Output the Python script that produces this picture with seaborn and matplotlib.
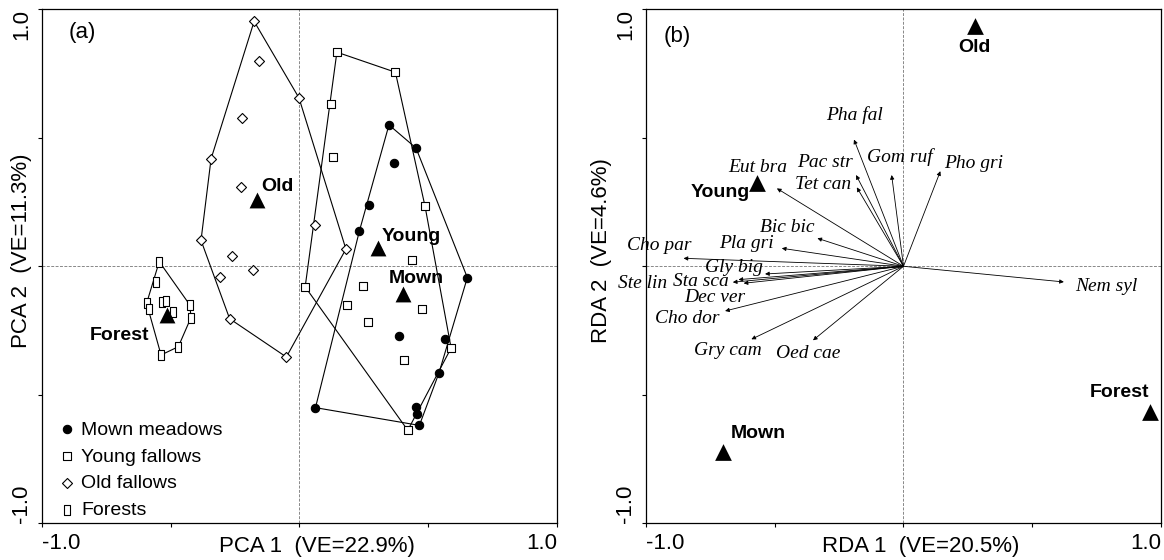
import matplotlib
matplotlib.use("Agg")
import matplotlib.pyplot as plt
import seaborn as sns
import pandas as pd
from matplotlib.path import Path

# ---- panel (a): PCA sample scores ----
mown_x = [0.347, 0.452, 0.367, 0.268, 0.232, 0.651, 0.386, 0.565, 0.541, 0.452, 0.455, 0.465, 0.062]
mown_y = [0.550, 0.460, 0.402, 0.240, 0.136, -0.044, -0.271, -0.281, -0.415, -0.547, -0.576, -0.619, -0.550]

young_x = [0.145, 0.372, 0.123, 0.130, 0.487, 0.436, 0.022, 0.246, 0.183, 0.476, 0.264, 0.588, 0.406, 0.420]
young_y = [0.833, 0.755, 0.632, 0.426, 0.233, 0.023, -0.080, -0.077, -0.149, -0.165, -0.217, -0.318, -0.366, -0.638]

old_x = [-0.176, -0.158, -0.002, -0.222, -0.343, -0.226, 0.059, 0.180, -0.382, -0.260, -0.182, -0.308, -0.271, -0.051]
old_y = [0.953, 0.798, 0.655, 0.576, 0.418, 0.307, 0.160, 0.067, 0.101, 0.040, -0.013, -0.042, -0.204, -0.353]

forest_x = [-0.544, -0.557, -0.593, -0.583, -0.533, -0.519, -0.489, -0.425, -0.421, -0.470, -0.537]
forest_y = [0.018, -0.062, -0.144, -0.166, -0.140, -0.134, -0.179, -0.151, -0.200, -0.313, -0.345]

groups = ["Mown meadows", "Young fallows", "Old fallows", "Forests"]
centroid_names = ["Mown", "Young", "Old", "Forest"]
pca_cx = [0.401, 0.304, -0.166, -0.513]
pca_cy = [-0.106, 0.071, 0.259, -0.190]

# ---- panel (b): RDA ----
rda_cx = [-0.702, -0.567, 0.277, 0.958]
rda_cy = [-0.722, 0.324, 0.934, -0.566]

species = ["Pha fal", "Pac str", "Tet can", "Gom ruf", "Pho gri", "Eut bra", "Bic bic",
           "Pla gri", "Cho par", "Gly big", "Sta sca", "Ste lin", "Dec ver", "Cho dor",
           "Gry cam", "Oed cae", "Nem syl"]
sp_x = [-0.192, -0.184, -0.181, -0.046, 0.143, -0.491, -0.334, -0.472, -0.853, -0.537,
        -0.640, -0.662, -0.620, -0.692, -0.590, -0.351, 0.622]
sp_y = [0.493, 0.355, 0.307, 0.355, 0.370, 0.303, 0.109, 0.070, 0.031, -0.030,
        -0.052, -0.062, -0.066, -0.174, -0.284, -0.288, -0.061]

# label placement (layout only)
sp_lab_x = [-0.189, -0.305, -0.312, -0.016, 0.273, -0.564, -0.449, -0.611, -0.947, -0.657,
            -0.784, -1.012, -0.731, -0.840, -0.683, -0.370, 0.785]
sp_lab_y = [0.590, 0.405, 0.318, 0.425, 0.398, 0.383, 0.152, 0.088, 0.080, -0.006,
            -0.060, -0.066, -0.120, -0.202, -0.327, -0.340, -0.080]
pca_lab = {"Mown": (0.452, -0.048, "center"), "Young": (0.318, 0.117, "left"),
           "Old": (-0.149, 0.311, "left"), "Forest": (-0.699, -0.268, "center")}
rda_lab = {"Mown": (-0.564, -0.651), "Young": (-0.709, 0.288),
           "Old": (0.277, 0.850), "Forest": (0.839, -0.492)}

sns.set_theme(style="ticks")
plt.rcParams["font.family"] = ["Liberation Sans", "DejaVu Sans"]
plt.rcParams.update({"text.color": "black", "axes.labelcolor": "black",
                     "xtick.color": "black", "ytick.color": "black"})

rect = Path([(-0.25, -0.5), (0.25, -0.5), (0.25, 0.5), (-0.25, 0.5), (-0.25, -0.5)],
            [Path.MOVETO, Path.LINETO, Path.LINETO, Path.LINETO, Path.CLOSEPOLY])


def hull(xs, ys):
    pts = sorted(set(zip(xs, ys)))

    def cross(o, a, b):
        return (a[0] - o[0]) * (b[1] - o[1]) - (a[1] - o[1]) * (b[0] - o[0])

    lower, upper = [], []
    for p in pts:
        while len(lower) >= 2 and cross(lower[-2], lower[-1], p) <= 0:
            lower.pop()
        lower.append(p)
    for p in reversed(pts):
        while len(upper) >= 2 and cross(upper[-2], upper[-1], p) <= 0:
            upper.pop()
        upper.append(p)
    h = lower[:-1] + upper[:-1]
    h.append(h[0])
    return [p[0] for p in h], [p[1] for p in h]


def style_axes(ax, xlab, ylab, ylab_x):
    ax.set_xlim(-1, 1)
    ax.set_ylim(-1, 1)
    ticks = [-1, -0.5, 0, 0.5, 1]
    labels = ["-1.0", "", "", "", "1.0"]
    ax.set_xticks(ticks, labels)
    ax.set_yticks(ticks, labels)
    ax.tick_params(direction="out", length=3, width=0.8, labelsize=16, pad=4)
    ax.tick_params(axis="y", labelrotation=90)
    xl = ax.get_xticklabels()
    xl[0].set_ha("left")
    xl[-1].set_ha("right")
    yl = ax.get_yticklabels()
    yl[0].set_va("bottom")
    yl[-1].set_va("top")
    ax.set_xlabel(xlab, fontsize=16)
    ax.set_ylabel(ylab, fontsize=16)
    ax.xaxis.set_label_coords(0.534, -0.024)
    ax.yaxis.set_label_coords(ylab_x, 0.53)
    for s in ax.spines.values():
        s.set_color("black")
        s.set_linewidth(0.9)
    ax.axhline(0, color="#888888", lw=0.7, ls=(0, (3, 1.5)), zorder=0)
    ax.axvline(0, color="#888888", lw=0.7, ls=(0, (3, 1.5)), zorder=0)


fig = plt.figure(figsize=(11.64, 5.6), dpi=100)
ax1 = fig.add_axes([0.0358, 0.0655, 0.443, 0.918])
ax2 = fig.add_axes([0.5547, 0.0655, 0.443, 0.918])

# ---- (a) ----
pca = pd.concat([
    pd.DataFrame({"x": mown_x, "y": mown_y, "group": groups[0]}),
    pd.DataFrame({"x": young_x, "y": young_y, "group": groups[1]}),
    pd.DataFrame({"x": old_x, "y": old_y, "group": groups[2]}),
    pd.DataFrame({"x": forest_x, "y": forest_y, "group": groups[3]}),
])
marks = {groups[0]: ("o", "black", 36), groups[1]: ("s", "white", 34),
         groups[2]: ("D", "white", 26), groups[3]: (rect, "white", 60)}

for g in groups:
    sub = pca[pca["group"] == g]
    hx, hy = hull(sub["x"], sub["y"])
    ax1.plot(hx, hy, color="black", lw=0.8, zorder=2)
for g in groups:
    sub = pca[pca["group"] == g]
    m, fc, s = marks[g]
    sns.scatterplot(data=sub, x="x", y="y", ax=ax1, marker=m, color=fc, s=s,
                    edgecolor="black", linewidth=0.8, legend=False, label=g, zorder=3)

sns.scatterplot(x=pca_cx, y=pca_cy, ax=ax1, marker="^", color="black", s=130,
                edgecolor="black", linewidth=0, legend=False, zorder=4)
for name in centroid_names:
    lx, ly, ha = pca_lab[name]
    ax1.text(lx, ly, name, fontsize=14, fontweight="bold", ha=ha, va="center", zorder=5)

ax1.text(-0.843, 0.908, "(a)", fontsize=16, ha="center", va="center")
ax1.legend(loc="lower left", bbox_to_anchor=(0.026, 0.0), frameon=False, fontsize=14,
           handlelength=0.8, handletextpad=0.35, labelspacing=0.48, borderpad=0.2,
           borderaxespad=0)
style_axes(ax1, "PCA 1  (VE=22.9%)", "PCA 2  (VE=11.3%)", -0.019)

# ---- (b) ----
for i, sp in enumerate(species):
    ax2.annotate("", xy=(sp_x[i], sp_y[i]), xytext=(0, 0),
                 arrowprops=dict(arrowstyle="-|>", color="black", lw=0.6,
                                 mutation_scale=6, shrinkA=0, shrinkB=0))
    ax2.text(sp_lab_x[i], sp_lab_y[i], sp, fontsize=14, style="italic",
             family=["Liberation Serif", "DejaVu Serif"], ha="center", va="center")

sns.scatterplot(x=rda_cx, y=rda_cy, ax=ax2, marker="^", color="black", s=145,
                edgecolor="black", linewidth=0, legend=False, zorder=4)
for name in centroid_names:
    lx, ly = rda_lab[name]
    ax2.text(lx, ly, name, fontsize=14, fontweight="bold", ha="center", va="center")

ax2.text(-0.879, 0.895, "(b)", fontsize=16, ha="center", va="center")
style_axes(ax2, "RDA 1  (VE=20.5%)", "RDA 2  (VE=4.6%)", -0.066)

fig.savefig("out.png", dpi=100)
